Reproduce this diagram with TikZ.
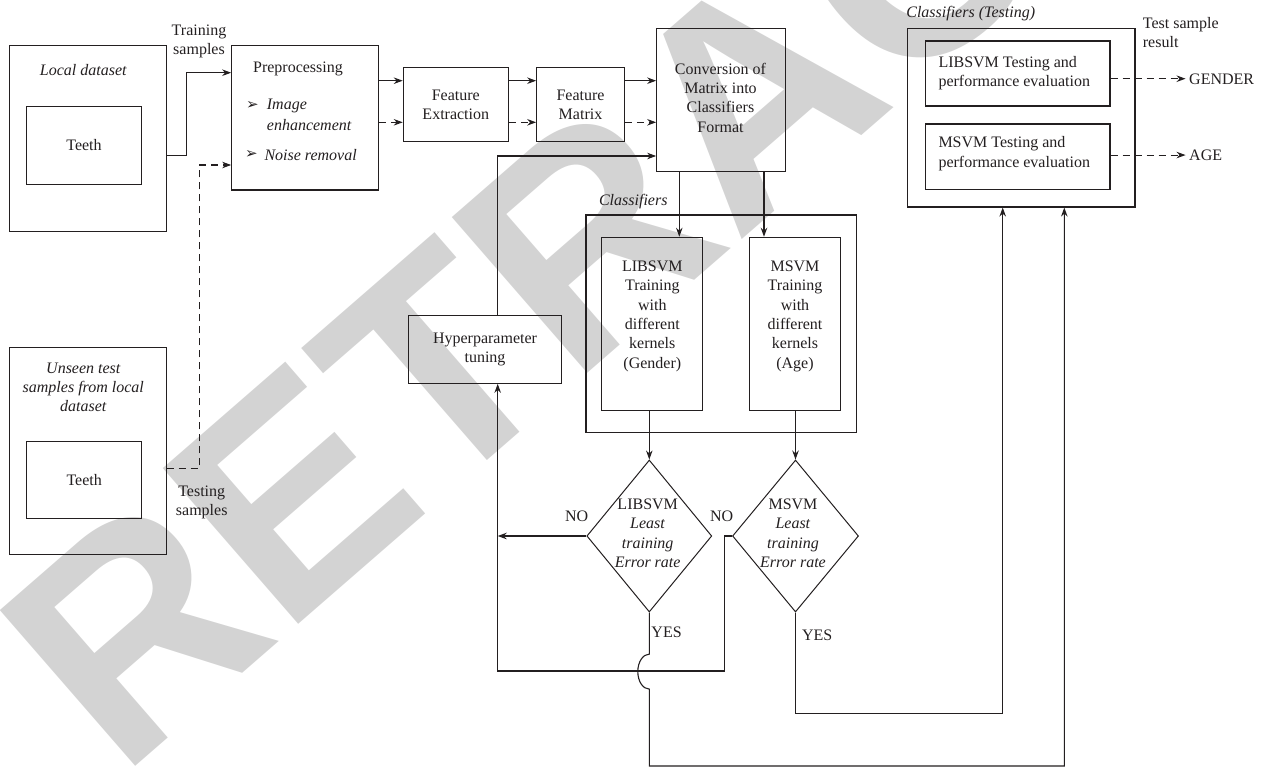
\documentclass[tikz,border=0pt]{standalone}
\usepackage{fontspec}
\setmainfont{Liberation Serif}
\newfontfamily\wmfont{Liberation Sans}
\newfontfamily\dvfont{DejaVu Sans}
\usetikzlibrary{arrows.meta,shapes.geometric,calc}
\definecolor{ink}{RGB}{35,31,32}
\definecolor{wmgray}{RGB}{211,211,211}
\tikzset{
  box/.style={draw=ink, line width=1.1pt, inner sep=0pt},
  txt/.style={text=ink, font=\fontsize{16}{19.3}\selectfont, align=center, inner sep=0pt},
  itxt/.style={txt, font=\fontsize{16}{19.3}\selectfont\itshape},
  bul/.style={text=ink, inner sep=0pt, font=\dvfont\fontsize{15}{15}\selectfont},
  arr/.style={draw=ink, line width=1.1pt, -{Stealth[length=9pt,width=6.5pt]}},
  dsh/.style={dash pattern=on 7pt off 5pt},
  dia/.style={diamond, draw=ink, line width=1pt, inner sep=0pt},
  wm/.style={text=wmgray, inner sep=0pt, font=\wmfont\bfseries\fontsize{300}{300}\selectfont}
}
\begin{document}
\begin{tikzpicture}[x=1pt,y=-1pt]
\useasboundingbox (0,0) rectangle (1266,769);
\begin{scope}
\clip (0,0) rectangle (1266,769);
\node[wm, rotate=41, anchor=base west] (wmark) at (120,780) {RETRACTED};
\end{scope}

% left column
\node[box, minimum width=156.7pt, minimum height=186pt] (local) at (87.7,138.7) {};
\node[itxt] (localT) at (83.3,70) {Local dataset};
\node[box, txt, minimum width=114.6pt, minimum height=77.6pt] (teethA) at (84,145.5) {Teeth};
\node[box, minimum width=156.7pt, minimum height=207.3pt] (unseen) at (87.7,450.7) {};
\node[itxt] (unseenT) at (83.3,387.2) {Unseen test\\samples from local\\dataset};
\node[box, txt, minimum width=115pt, minimum height=76.6pt] (teethB) at (84.2,480) {Teeth};
\node[txt] (trs) at (199,41.5) {Training\\samples};
\node[txt] (tes) at (201.7,502.5) {Testing\\samples};

% preprocessing
\node[box, minimum width=146.6pt, minimum height=144.3pt] (pre) at (305,117.85) {};
\node[txt] (preT) at (298,69) {Preprocessing};
\node[bul] (b1) at (252.5,105) {➢};
\node[itxt, anchor=west] (b1T) at (266.7,106) {Image};
\node[itxt, anchor=west] (b1U) at (266.7,125) {enhancement};
\node[bul] (b2) at (251.5,154) {➢};
\node[itxt, anchor=west] (b2T) at (264.3,155) {Noise removal};

% features
\node[box, txt, minimum width=105pt, minimum height=74.4pt] (fe) at (455.8,104.5) {Feature\\Extraction};
\node[box, txt, minimum width=87.6pt, minimum height=74.4pt] (fm) at (580.5,104.5) {Feature\\Matrix};
\node[box, minimum width=129pt, minimum height=143.4pt] (conv) at (721.2,100) {};
\node[txt] (convT) at (720.5,97.5) {Conversion of\\Matrix into\\Classifiers\\Format};

% classifiers
\node[box, minimum width=270.5pt, minimum height=217.7pt] (cls) at (721.25,323.85) {};
\node[itxt] (clsT) at (633.3,201.7) {Classifiers};
\node[box, minimum width=101pt, minimum height=173.4pt] (lib) at (652.2,324) {};
\node[txt] (libT) at (652.3,316.3) {LIBSVM\\Training\\with\\different\\kernels\\(Gender)};
\node[box, minimum width=91.4pt, minimum height=173.4pt] (msvm) at (795,324) {};
\node[txt] (msvmT) at (795,316.3) {MSVM\\Training\\with\\different\\kernels\\(Age)};
\node[box, txt, minimum width=153.4pt, minimum height=67.6pt] (hyp) at (485,349.5) {Hyperparameter\\tuning};

% decisions
\node[dia, minimum width=125pt, minimum height=152pt] (d1) at (649.3,536) {};
\node[txt] (d1T) at (647.7,533.4) {LIBSVM\\\textit{Least}\\\textit{training}\\\textit{Error rate}};
\node[dia, minimum width=126pt, minimum height=152pt] (d2) at (795.5,536) {};
\node[txt] (d2T) at (793,533.4) {MSVM\\\textit{Least}\\\textit{training}\\\textit{Error rate}};
\node[txt] (no1) at (576.7,516.7) {NO};
\node[txt] (no2) at (721.7,516.7) {NO};
\node[txt] (yes1) at (666.6,632.3) {YES};
\node[txt] (yes2) at (817.2,635) {YES};

% testing
\node[box, minimum width=227.3pt, minimum height=178.7pt] (test) at (1021.35,117.65) {};
\node[itxt] (testT) at (970.7,13.3) {Classifiers (Testing)};
\node[box, minimum width=184.3pt, minimum height=65pt] (lt) at (1017.85,73.5) {};
\node[txt, align=left, anchor=west] (ltT) at (938.3,73) {LIBSVM Testing and\\performance evaluation};
\node[box, minimum width=184.3pt, minimum height=65.3pt] (mt) at (1017.85,156.65) {};
\node[txt, align=left, anchor=west] (mtT) at (938.3,153.7) {MSVM Testing and\\performance evaluation};
\node[txt, align=left, anchor=west] (tsr) at (1142.7,32.2) {Test sample\\result};
\node[txt, anchor=west] (gen) at (1189,79) {GENDER};
\node[txt, anchor=west] (age) at (1189,155) {AGE};

\coordinate (loopL) at (497.7,671);
\coordinate (botA) at (649.3,766);
\coordinate (botB) at (795.5,713.3);

% connectors
\draw[arr] ([yshift=-16.6pt]local.east) -- ++(20,0) |- ([yshift=45.15pt]pre.west);
\draw[arr,dsh] ([yshift=-17.6pt]unseen.east) -- ++(33,0) |- ([yshift=-47.15pt]pre.west);
\draw[arr] ([yshift=23.8pt]fe.west -| pre.east) -- ([yshift=23.8pt]fe.west);
\draw[arr,dsh] ([yshift=-17.8pt]fe.west -| pre.east) -- ([yshift=-17.8pt]fe.west);
\draw[arr] ([yshift=23.8pt]fm.west -| fe.east) -- ([yshift=23.8pt]fm.west);
\draw[arr,dsh] ([yshift=-17.8pt]fm.west -| fe.east) -- ([yshift=-17.8pt]fm.west);
\draw[arr] ([yshift=19.3pt]conv.west -| fm.east) -- ([yshift=19.3pt]conv.west);
\draw[arr,dsh] ([yshift=-22.3pt]conv.west -| fm.east) -- ([yshift=-22.3pt]conv.west);
\draw[arr] (hyp.north -| loopL) |- ([yshift=-56pt]conv.west);
\draw[arr] ([xshift=-41.9pt]conv.south) -- ([xshift=-41.9pt]conv.south |- lib.north);
\draw[arr] ([xshift=42.8pt]conv.south) -- ([xshift=42.8pt]conv.south |- msvm.north);
\draw[arr] (lib.south -| d1.north) -- (d1.north);
\draw[arr] (msvm.south -| d2.north) -- (d2.north);
\draw[arr] (d1.west) -- (d1.west -| loopL);
\draw[arr] (d2.west) -- ++(-7.5,0) |- (loopL) -- (hyp.south -| loopL);
\draw[arr] (d1.south) -- ++(0,41.6) arc[start angle=90, end angle=270, x radius=11.5pt, y radius=17.5pt] -- (botA) -| ([xshift=42.95pt]test.south);
\draw[arr] (d2.south) -- (botB) -| ([xshift=-18.65pt]test.south);
\draw[arr,dsh] ([yshift=-5.2pt]lt.east) -- ++(75,0);
\draw[arr,dsh] ([yshift=1.6pt]mt.east) -- ++(75,0);
\end{tikzpicture}
\end{document}
